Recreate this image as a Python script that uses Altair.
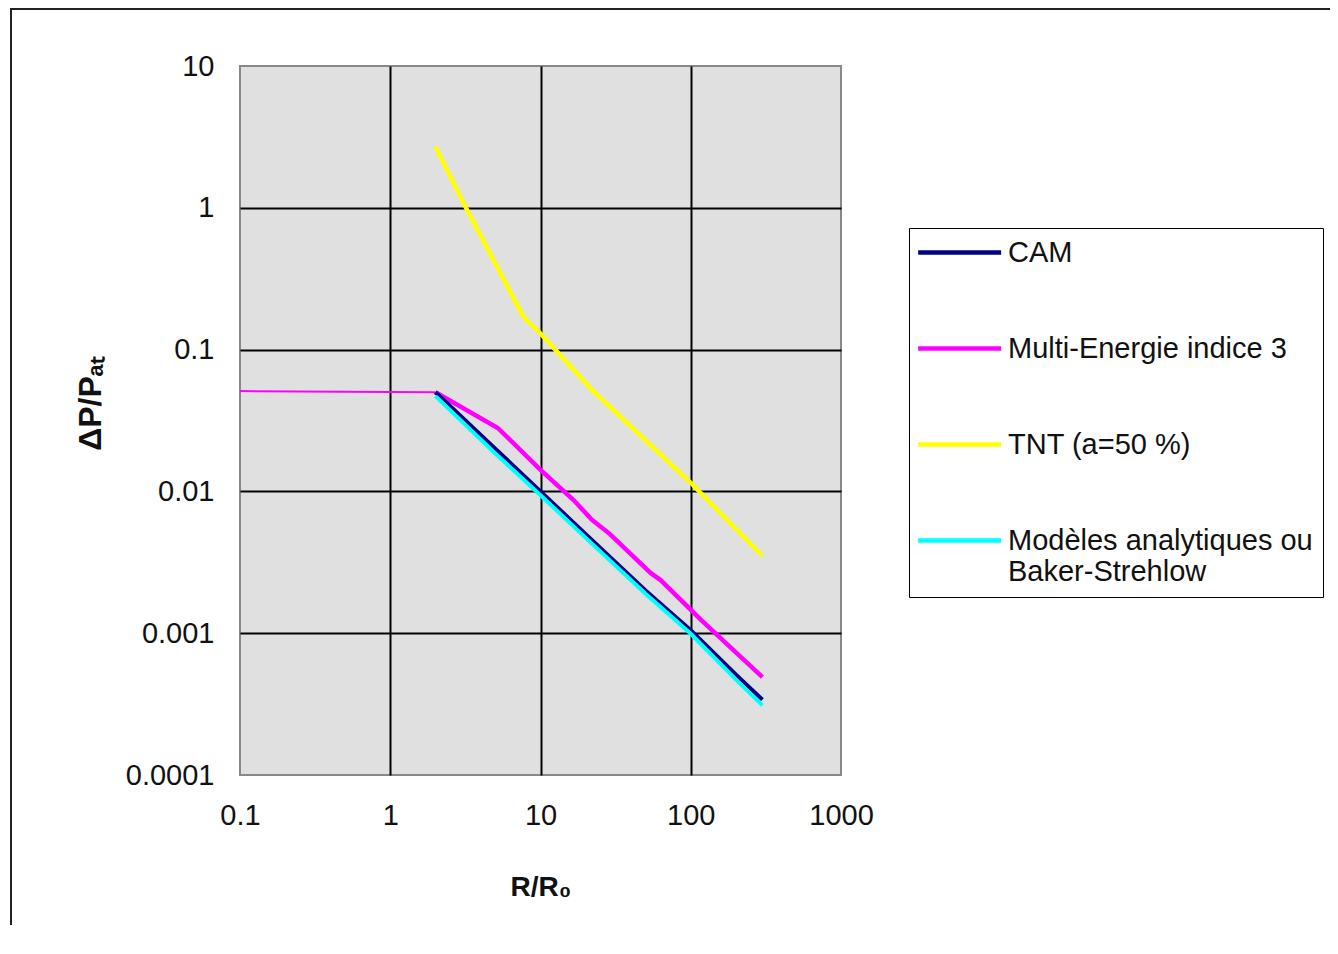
import altair as alt
import pandas as pd

# ---- data ----
series_names = ["CAM", "Multi-Energie indice 3", "TNT (a=50 %)",
                "Modèles analytiques ou Baker-Strehlow"]
series_colors = ["#000080", "#FF00FF", "#FFFF00", "#00FFFF"]

cam_x = [2, 5, 10, 20, 50, 100, 200, 300]
cam_y = [0.050, 0.020, 0.0100, 0.0050, 0.0020, 0.00105, 0.00051, 0.00034]

me_flat_x = [0.1, 2]
me_flat_y = [0.051, 0.050]
me_x = [2, 5.2, 10, 16.6, 22, 29, 54, 63, 117, 300]
me_y = [0.050, 0.028, 0.0142, 0.0087, 0.0063, 0.0050, 0.00266, 0.00237, 0.00124, 0.00049]

tnt_x = [2, 3.07, 7.7, 10, 22, 77, 100, 300]
tnt_y = [2.7, 1.08, 0.17, 0.13, 0.052, 0.0149, 0.0115, 0.0035]

bs_x = [2, 5, 10, 20, 50, 100, 200, 300]
bs_y = [0.047, 0.0185, 0.0094, 0.0047, 0.0019, 0.00099, 0.00047, 0.00031]

x_ticks = [0.1, 1, 10, 100, 1000]
y_ticks = [0.0001, 0.001, 0.01, 0.1, 1, 10]


def frame(xs, ys, name):
    return pd.DataFrame({"x": xs, "y": ys, "serie": name, "i": range(len(xs))})


df_cam = frame(cam_x, cam_y, series_names[0])
df_me = frame(me_x, me_y, series_names[1])
df_me_flat = frame(me_flat_x, me_flat_y, series_names[1])
df_tnt = frame(tnt_x, tnt_y, series_names[2])
df_bs = frame(bs_x, bs_y, series_names[3])

FONT = "Liberation Sans"
FS = 29

interior_x = "datum.value > 0.1 && datum.value < 1000"
interior_y = "datum.value > 0.0001 && datum.value < 10"

xscale = alt.Scale(type="log", domain=[0.1, 1000], nice=False)
yscale = alt.Scale(type="log", domain=[0.0001, 10], nice=False)
cscale = alt.Scale(domain=series_names, range=series_colors)

xaxis = alt.Axis(values=x_ticks, format="~g", title="R/R₀", grid=True,
                 gridColor="#000000", gridWidth=2,
                 gridOpacity={"condition": {"test": interior_x, "value": 1}, "value": 0},
                 ticks=False, domain=False, labelFontSize=FS, labelFont=FONT,
                 labelColor="#111111", labelPadding=26, labelFlush=False,
                 titleFont=FONT, titleFontSize=28, titleFontWeight="bold",
                 titleColor="#111111", titleY=120, titleBaseline="alphabetic")
yaxis = alt.Axis(values=y_ticks, format="~g", title="ΔP/Pₐₜ", grid=True,
                 gridColor="#000000", gridWidth=2,
                 gridOpacity={"condition": {"test": interior_y, "value": 1}, "value": 0},
                 ticks=False, domain=False, labelFontSize=FS, labelFont=FONT,
                 labelColor="#111111", labelPadding=26, labelFlush=False,
                 titleFont=FONT, titleFontSize=32, titleFontWeight="bold",
                 titleColor="#111111", titleX=-140, titleY=337,
                 titleBaseline="alphabetic")

legend = alt.Legend(
    title=None, orient="none", legendX=669, legendY=162,
    symbolType="M-1.85,0H8.15", symbolSize=16.6 * 16.6, symbolStrokeWidth=4.5,
    labelFont=FONT, labelFontSize=FS, labelColor="#111111", labelLimit=700,
    labelOffset=60, strokeColor="#000000", padding=10, rowPadding=66,
    labelExpr="datum.label == 'Modèles analytiques ou Baker-Strehlow' ? "
              "['Modèles analytiques ou', 'Baker-Strehlow'] : datum.label",
)


def line(df, width):
    return alt.Chart(df).mark_line(strokeWidth=width, clip=True).encode(
        x=alt.X("x:Q", scale=xscale, axis=xaxis),
        y=alt.Y("y:Q", scale=yscale, axis=yaxis),
        color=alt.Color("serie:N", scale=cscale, legend=legend,
                        sort=series_names),
        order="i:Q",
    )


border = alt.Chart(pd.DataFrame({"k": [0]})).mark_rect(
    fill=None, stroke="#222222", strokeWidth=2
).encode(x=alt.value(-229), x2=alt.value(1300), y=alt.value(-57), y2=alt.value(1000))

chart = alt.layer(
    border,
    line(df_tnt, 4.5),
    line(df_me_flat, 2),
    line(df_me, 4.5),
    line(df_cam, 4),
    line(df_bs, 4),
).properties(
    width=601, height=709,
    padding={"left": 232, "top": 58, "right": 489, "bottom": 150},
    autosize=alt.AutoSizeParams(type="none"),
).configure(
    background="#FFFFFF"
).configure_view(
    fill="#E0E0E0", stroke="#888888", strokeWidth=2
)

chart.save("out.html", embed_options={"renderer": "svg", "actions": False})
